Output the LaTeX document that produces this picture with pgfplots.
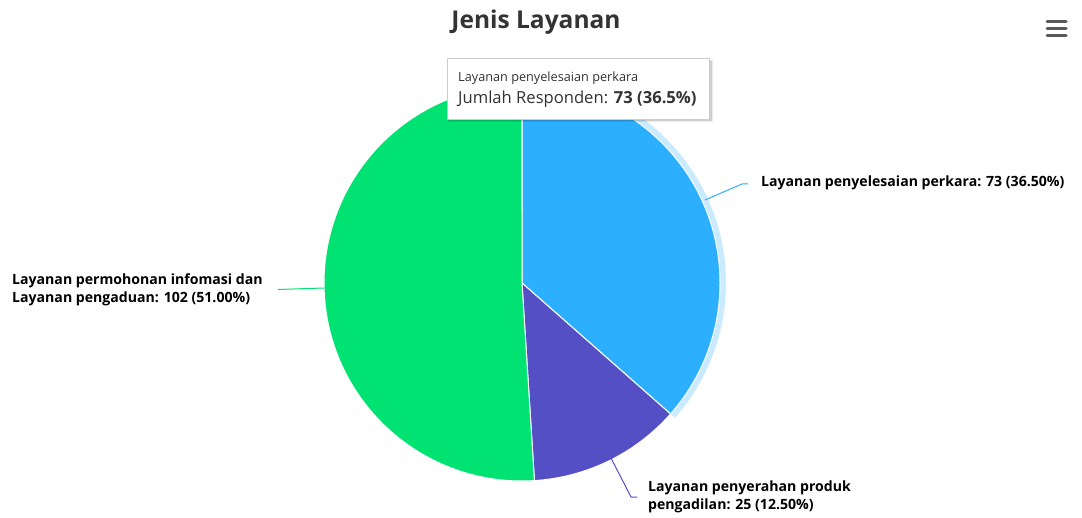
\documentclass[border=0pt]{standalone}
\usepackage{pgfplots}
\pgfplotsset{compat=1.18}
\usepackage{fontspec}
\setmainfont{Open Sans}
\definecolor{cBlue}{HTML}{2CAFFE}
\definecolor{cPurple}{HTML}{544FC5}
\definecolor{cGreen}{HTML}{00E272}
\definecolor{cTitle}{HTML}{333333}
% data: Jumlah Responden
\def\vA{73}  % Layanan penyelesaian perkara
\def\vB{25}  % Layanan penyerahan produk pengadilan
\def\vC{102} % Layanan permohonan infomasi dan Layanan pengaduan
\def\R{198pt}
\begin{document}
\begin{tikzpicture}
\pgfmathsetmacro{\tot}{\vA+\vB+\vC}
\pgfmathsetmacro{\aA}{90-(\vA/\tot)*360}
\pgfmathsetmacro{\aB}{\aA-(\vB/\tot)*360}
\pgfmathsetmacro{\aC}{\aB-(\vC/\tot)*360}
\begin{axis}[
  at={(0,0)}, anchor=south west,
  width=1082pt, height=517pt, scale only axis,
  xmin=0, xmax=1082, ymin=0, ymax=517,
  hide axis, clip=false,
]
% halo of hovered slice
\fill[cBlue, opacity=0.25] (axis cs:522,234) ++(90:204pt) arc[start angle=90, end angle=\aA, radius=204pt]
   -- ++(\aA+180:6pt) arc[start angle=\aA, end angle=90, radius=198pt] -- cycle;
% slices
\filldraw[fill=cBlue, draw=white, line width=1pt] (axis cs:522,234) -- ++(90:\R) arc[start angle=90, end angle=\aA, radius=\R] -- cycle;
\filldraw[fill=cPurple, draw=white, line width=1pt] (axis cs:522,234) -- ++(\aA:\R) arc[start angle=\aA, end angle=\aB, radius=\R] -- cycle;
\filldraw[fill=cGreen, draw=white, line width=1pt] (axis cs:522,234) -- ++(\aB:\R) arc[start angle=\aB, end angle=\aC, radius=\R] -- cycle;
% connectors
\draw[cBlue, line width=1pt] (axis cs:705,317) -- (axis cs:742,333) -- (axis cs:748,333);
\draw[cGreen, line width=1pt] (axis cs:278,227.5) -- (axis cs:324,229);
\draw[cPurple, line width=1pt] (axis cs:611,59) -- (axis cs:631,20) -- (axis cs:637,20);
% labels
\node[anchor=west, inner sep=0pt, font=\fontsize{14.1}{18}\selectfont\bfseries] at (axis cs:761,334) {Layanan penyelesaian perkara: 73 (36.50\%)};
\node[anchor=west, inner sep=0pt, align=left, font=\fontsize{14.1}{18}\selectfont\bfseries] at (axis cs:12,227) {Layanan permohonan infomasi dan\\Layanan pengaduan: 102 (51.00\%)};
\node[anchor=west, inner sep=0pt, align=left, font=\fontsize{14.1}{18}\selectfont\bfseries] at (axis cs:648,20) {Layanan penyerahan produk\\pengadilan: 25 (12.50\%)};
% title
\node[text=cTitle, font=\fontsize{24.5}{28}\selectfont\bfseries] at (axis cs:536,494.5) {Jenis Layanan};
% hamburger
\draw[gray!70!black, line width=3pt, line cap=round] (axis cs:1047,495) -- (axis cs:1066,495);
\draw[gray!70!black, line width=3pt, line cap=round] (axis cs:1047,488) -- (axis cs:1066,488);
\draw[gray!70!black, line width=3pt, line cap=round] (axis cs:1047,481) -- (axis cs:1066,481);
% tooltip
\fill[black, opacity=0.12] (axis cs:449,396) rectangle (axis cs:712,456);
\fill[black, opacity=0.08] (axis cs:448,395) rectangle (axis cs:713,457);
\filldraw[fill=white, draw=black!20, line width=0.7pt] (axis cs:447,398) rectangle (axis cs:709,459);
\node[anchor=west, inner sep=0pt, text=cTitle, font=\fontsize{12.7}{15}\selectfont] at (axis cs:458,439) {Layanan penyelesaian perkara};
\node[anchor=west, inner sep=0pt, text=cTitle, font=\fontsize{16.6}{19}\selectfont] at (axis cs:458,418) {Jumlah Responden: \textbf{73 (36.5\%)}};
\end{axis}
\pgfresetboundingbox
\path (0,0) rectangle (1082pt,517pt);
\end{tikzpicture}
\end{document}
